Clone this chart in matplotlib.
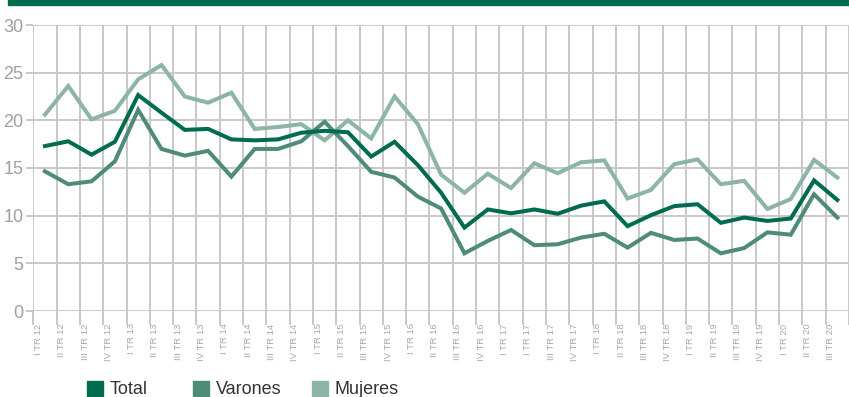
import matplotlib.pyplot as plt
from matplotlib.patches import Rectangle

plt.rcParams['font.family'] = ['Liberation Sans', 'DejaVu Sans']

# quarterly series, I TR 12 .. III TR 20
labels = ["I TR 12", "II TR 12", "III TR 12", "IV TR 12",
          "I TR 13", "II TR 13", "III TR 13", "IV TR 13",
          "I TR 14", "II TR 14", "III TR 14", "IV TR 14",
          "I TR 15", "II TR 15", "III TR 15", "IV TR 15",
          "I TR 16", "II TR 16", "III TR 16", "IV TR 16",
          "I TR 17", "I TR 17", "III TR 17", "IV TR 17",
          "I TR 18", "II TR 18", "III TR 18", "IV TR 18",
          "I TR 19", "II TR 19", "III TR 19", "IV TR 19",
          "I TR 20", "II TR 20", "III TR 20"]

total = [17.3, 17.8, 16.4, 17.75, 22.65, 20.8, 19.0, 19.1, 18.0, 17.9, 18.0, 18.7,
         18.9, 18.75, 16.2, 17.75, 15.3, 12.4, 8.75, 10.65, 10.25, 10.65, 10.2,
         11.05, 11.5, 8.9, 10.05, 11.0, 11.2, 9.25, 9.8, 9.45, 9.7, 13.7, 11.65]
varones = [14.65, 13.3, 13.6, 15.7, 21.1, 17.0, 16.3, 16.8, 14.1, 17.0, 17.0, 17.8,
           19.85, 17.3, 14.6, 14.0, 12.0, 10.75, 6.05, 7.35, 8.5, 6.9, 7.0,
           7.7, 8.1, 6.65, 8.2, 7.45, 7.6, 6.05, 6.6, 8.25, 8.0, 12.25, 9.8]
mujeres = [20.6, 23.6, 20.1, 21.0, 24.3, 25.8, 22.5, 21.85, 22.9, 19.1, 19.3, 19.6,
           17.9, 20.0, 18.1, 22.5, 19.6, 14.3, 12.4, 14.4, 12.9, 15.5, 14.45,
           15.6, 15.8, 11.8, 12.7, 15.4, 15.9, 13.3, 13.65, 10.7, 11.75, 15.85, 14.0]

c_total = '#006b4f'
c_var = '#4e8c77'
c_muj = '#8cb5a5'
grid_c = '#c8c8c8'

W, H = 849, 397
fig = plt.figure(figsize=(W / 100, H / 100), dpi=100)

# dark band along the top
fig.patches.append(Rectangle((8 / W, (H - 5) / H), 1, 5 / H,
                             transform=fig.transFigure, color=c_total, zorder=0))

ax = fig.add_axes([33.3 / W, 86 / H, (W - 33.3) / W, 286 / H])
x = list(range(len(labels)))
ax.plot(x, mujeres, color=c_muj, lw=2.9, solid_joinstyle='miter', zorder=3)
ax.plot(x, varones, color=c_var, lw=2.9, solid_joinstyle='miter', zorder=3)
ax.plot(x, total, color=c_total, lw=2.9, solid_joinstyle='miter', zorder=4)

step = 23.48
ax.set_xlim(-0.5, -0.5 + (W - 33.3) / step)
ax.set_ylim(0, 30)

for s in ax.spines.values():
    s.set_visible(False)

ax.set_yticks(range(0, 31, 5))
ax.tick_params(axis='y', length=5, width=1.4, color=grid_c, labelcolor='#a0a0a0',
               labelsize=13, pad=2)
ax.yaxis.grid(True, color=grid_c, lw=1.4)

# category boundaries carry the vertical grid, labels sit just right of them
ax.set_xticks([i - 0.5 for i in range(len(labels) + 1)], minor=True)
ax.tick_params(axis='x', which='minor', length=10, width=1.4, color=grid_c)
ax.xaxis.grid(True, which='minor', color=grid_c, lw=1.4)
ax.set_xticks([i - 0.28 for i in x])
ax.set_xticklabels(labels, rotation=90, fontsize=6.8, color='#a8a8a8')
ax.tick_params(axis='x', which='major', length=0, pad=9)
ax.set_axisbelow(True)

# legend
for lx, name, col in [(87, 'Total', c_total), (193, 'Varones', c_var), (312, 'Mujeres', c_muj)]:
    fig.patches.append(Rectangle((lx / W, (H - 396) / H), 16 / W, 15 / H,
                                 transform=fig.transFigure, color=col))
    fig.text((lx + 23) / W, (H - 389) / H, name, fontsize=13, color='#333333',
             va='center', ha='left')

fig.savefig('out.png', dpi=100)
